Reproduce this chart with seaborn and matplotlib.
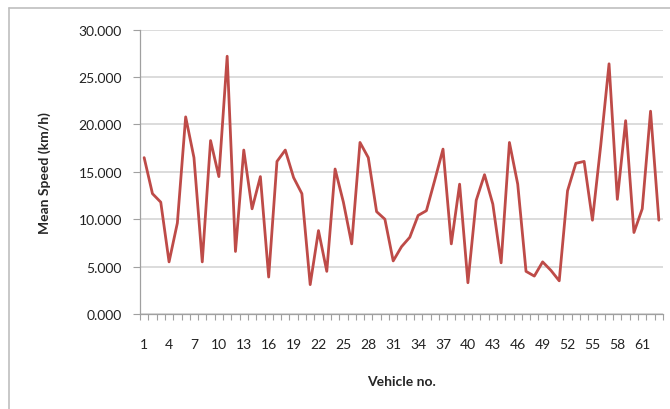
import numpy as np
import pandas as pd
import seaborn as sns
import matplotlib.pyplot as plt
from matplotlib.ticker import FixedLocator, FuncFormatter
from matplotlib.lines import Line2D

# Data
vehicle_no = list(range(1, 64))
mean_speed = [16.5, 12.7, 11.8, 5.5, 9.6, 20.8, 16.5, 5.5, 18.3, 14.5,
              27.2, 6.6, 17.3, 11.1, 14.5, 3.9, 16.1, 17.3, 14.4, 12.7,
              3.1, 8.8, 4.5, 15.3, 11.8, 7.4, 18.1, 16.5, 10.8, 10.0,
              5.6, 7.1, 8.1, 10.4, 10.9, 14.1, 17.4, 7.4, 13.7, 3.3,
              12.0, 14.7, 11.6, 5.4, 18.1, 13.7, 4.5, 4.0, 5.5, 4.6,
              3.5, 13.0, 15.9, 16.1, 9.9, 17.8, 26.4, 12.1, 20.4, 8.6,
              11.1, 21.4, 9.9]
y_ticks = [0, 5, 10, 15, 20, 25, 30]

df = pd.DataFrame({"Vehicle no.": vehicle_no, "Mean Speed (km/h)": mean_speed})

sns.set_style("white")
plt.rcParams['font.family'] = ['Lato', 'DejaVu Sans']

fig = plt.figure(figsize=(6.7, 4.1), dpi=100)
ax = fig.add_axes([140 / 670, 1 - 315 / 410, 523 / 670, (315 - 30.7) / 410])

sns.lineplot(data=df, x="Vehicle no.", y="Mean Speed (km/h)", ax=ax,
             color="#be4b48", linewidth=2.0)

ax.set_xlim(0.5, 63.5)
ax.set_ylim(0, 30)
ax.set_yticks(y_ticks)
ax.yaxis.set_major_formatter(FuncFormatter(lambda v, p: f"{v:.3f}"))
ax.grid(axis="y", color="#d9d9d9", linewidth=1.3)
ax.set_axisbelow(True)

# category axis: labels every 3rd vehicle, ticks at category boundaries
ax.set_xticks(vehicle_no[::3])
ax.xaxis.set_minor_locator(FixedLocator(np.arange(0.5, 64, 1)))
ax.tick_params(axis="x", which="major", length=0, pad=17, labelsize=10, colors="#222222")
ax.tick_params(axis="x", which="minor", bottom=True, length=4, width=0.8, color="#a0a0a0")
ax.tick_params(axis="y", which="major", left=True, length=5, width=0.8, color="#a0a0a0",
               labelsize=10, labelcolor="#222222", pad=8)

for side in ["top", "right"]:
    ax.spines[side].set_visible(False)
for side in ["left", "bottom"]:
    ax.spines[side].set_color("#a0a0a0")
    ax.spines[side].set_linewidth(0.9)

ax.set_xlabel("Vehicle no.", fontsize=10, fontweight="bold", labelpad=18)
ax.set_ylabel("Mean Speed (km/h)", fontsize=10, fontweight="bold", labelpad=20)

# chart area border
fig.add_artist(Line2D([9 / 670, 9 / 670], [0, 1 - 9 / 410], color="#bfbfbf", linewidth=1.2))
fig.add_artist(Line2D([9 / 670, 1], [1 - 9 / 410, 1 - 9 / 410], color="#bfbfbf", linewidth=1.2))

fig.savefig("out.png", dpi=100)
